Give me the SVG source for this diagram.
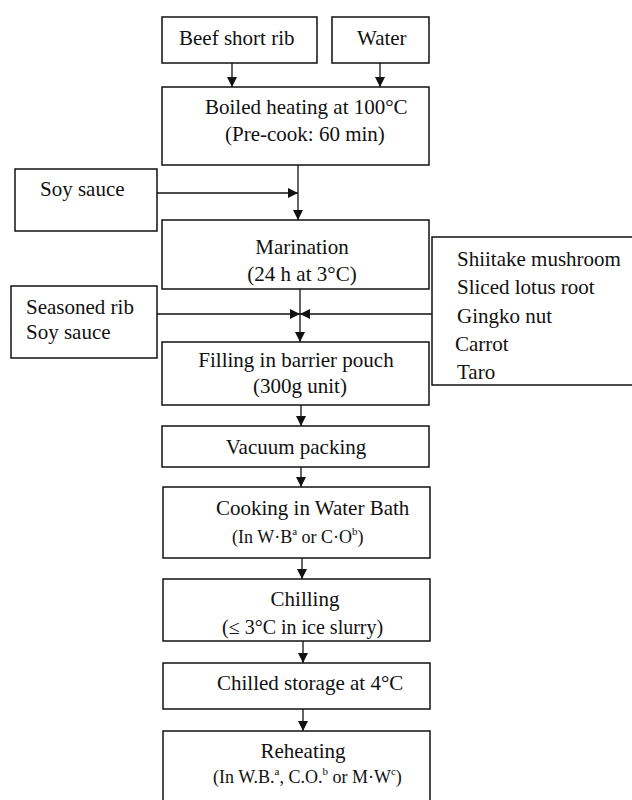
<svg xmlns="http://www.w3.org/2000/svg" width="632" height="800" viewBox="0 0 632 800">
<defs>
<style>
rect{fill:#fff;stroke:#111;stroke-width:1.5}
text{font-family:"Liberation Serif","Times New Roman",serif;font-size:21px;fill:#111}
.s{font-size:18px}
.m{font-size:20px}
.sup{font-size:11px}
.c{stroke:#111;stroke-width:1.3;fill:none}
</style>
<marker id="ah" markerUnits="userSpaceOnUse" markerWidth="10" markerHeight="12" viewBox="0 0 10 12" refX="10" refY="6" orient="auto">
<path d="M0,1 L10,6 L0,11 Z" fill="#111"/>
</marker>
</defs>
<rect x="-1" y="-1" width="634" height="802" style="stroke:none"/>
<g id="connectors">
<line class="c" x1="232" y1="63" x2="232" y2="87" marker-end="url(#ah)"/>
<line class="c" x1="380" y1="63" x2="380" y2="87" marker-end="url(#ah)"/>
<line class="c" x1="298" y1="165" x2="298" y2="220" marker-end="url(#ah)"/>
<line class="c" x1="157" y1="193" x2="298" y2="193" marker-end="url(#ah)"/>
<line class="c" x1="300" y1="289" x2="300" y2="342" marker-end="url(#ah)"/>
<line class="c" x1="157" y1="314" x2="300" y2="314" marker-end="url(#ah)"/>
<line class="c" x1="432" y1="314" x2="300" y2="314" marker-end="url(#ah)"/>
<line class="c" x1="301" y1="405" x2="301" y2="426" marker-end="url(#ah)"/>
<line class="c" x1="301" y1="467" x2="301" y2="487" marker-end="url(#ah)"/>
<line class="c" x1="302" y1="558" x2="302" y2="579" marker-end="url(#ah)"/>
<line class="c" x1="303" y1="641" x2="303" y2="663" marker-end="url(#ah)"/>
<line class="c" x1="303" y1="709" x2="303" y2="731" marker-end="url(#ah)"/>
</g>
<g id="beef"><rect x="162" y="17" width="155" height="46"/><text x="179" y="45">Beef short rib</text></g>
<g id="water"><rect x="332" y="17" width="97" height="46"/><text x="357" y="45">Water</text></g>
<g id="boiled"><rect x="162" y="87" width="267" height="78"/><text x="205" y="114">Boiled heating at 100°C</text><text x="225" y="141">(Pre-cook: 60 min)</text></g>
<g id="soy"><rect x="15" y="169" width="142" height="62"/><text x="40" y="196">Soy sauce</text></g>
<g id="marination"><rect x="162" y="220" width="267" height="69"/><text x="302" y="254" text-anchor="middle">Marination</text><text x="302" y="281" text-anchor="middle">(24 h at 3°C)</text></g>
<g id="seasoned"><rect x="11" y="286" width="146" height="72"/><text x="26" y="314">Seasoned rib</text><text x="26" y="339">Soy sauce</text></g>
<g id="ingredients"><rect x="432" y="237" width="202" height="148"/><text x="457" y="266">Shiitake mushroom</text><text x="457" y="294">Sliced lotus root</text><text x="457" y="323">Gingko nut</text><text x="455" y="351">Carrot</text><text x="457" y="379">Taro</text></g>
<g id="filling"><rect x="162" y="342" width="267" height="63"/><text x="296" y="367" text-anchor="middle">Filling in barrier pouch</text><text x="300" y="393" text-anchor="middle">(300g unit)</text></g>
<g id="vacuum"><rect x="162" y="426" width="267" height="41"/><text x="296" y="454" text-anchor="middle">Vacuum packing</text></g>
<g id="cooking"><rect x="163" y="487" width="267" height="71"/><text x="216" y="515">Cooking in Water Bath</text><text class="s" x="232" y="543">(In W·B<tspan class="sup" dy="-8">a</tspan><tspan dy="8"> or C·O</tspan><tspan class="sup" dy="-8">b</tspan><tspan dy="8">)</tspan></text></g>
<g id="chilling"><rect x="163" y="579" width="267" height="62"/><text x="305" y="606" text-anchor="middle">Chilling</text><text class="m" x="222" y="634">(≤ 3°C in ice slurry)</text></g>
<g id="storage"><rect x="163" y="663" width="267" height="46"/><text x="217" y="690">Chilled storage at 4°C</text></g>
<g id="reheating"><rect x="163" y="731" width="267" height="75"/><text x="303" y="758" text-anchor="middle">Reheating</text><text class="s" x="213" y="783">(In W.B.<tspan class="sup" dy="-8">a</tspan><tspan dy="8">, C.O.</tspan><tspan class="sup" dy="-8">b</tspan><tspan dy="8"> or M·W</tspan><tspan class="sup" dy="-8">c</tspan><tspan dy="8">)</tspan></text></g>
</svg>
